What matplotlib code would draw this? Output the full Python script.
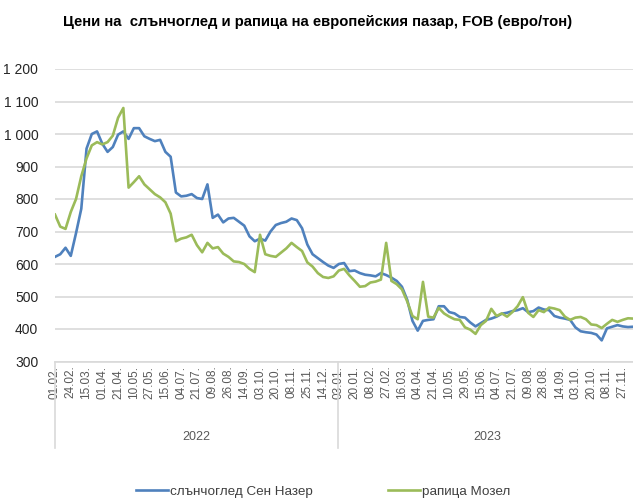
import matplotlib
matplotlib.use("Agg")
import matplotlib.pyplot as plt
import matplotlib.transforms as mtransforms
import numpy as np

plt.rcParams['font.family'] = ['Liberation Sans', 'DejaVu Sans']

title = "Цени на  слънчоглед и рапица на европейския пазар, FOB (евро/тон)"
series_names = ["слънчоглед Сен Назер", "рапица Мозел"]
tick_labels = ["01.02.", "24.02.", "15.03.", "01.04.", "21.04.", "10.05.", "27.05.", "15.06.",
               "04.07.", "21.07.", "09.08.", "26.08.", "14.09.", "03.10.", "20.10.", "08.11.",
               "25.11.", "14.12.", "03.01.", "20.01.", "08.02.", "27.02.", "16.03.", "04.04.",
               "21.04.", "10.05.", "29.05.", "15.06.", "04.07.", "21.07.", "09.08.", "28.08.",
               "14.09.", "03.10.", "20.10.", "08.11.", "27.11."]
years = ["2022", "2023"]
samples_per_tick = 3

sunflower = [622, 630, 650, 625, 695, 770, 955, 1000, 1008, 970,
             945, 960, 998, 1008, 985, 1018, 1018, 993, 985, 978,
             982, 945, 930, 820, 808, 810, 815, 803, 800, 845,
             742, 752, 728, 740, 742, 730, 718, 685, 670, 678,
             672, 700, 720, 726, 730, 740, 735, 710, 660, 630,
             618, 606, 595, 588, 600, 603, 578, 580, 572, 567,
             565, 562, 572, 566, 558, 548, 530, 490, 425, 395,
             425, 428, 430, 470, 470, 452, 448, 437, 435, 420,
             408, 418, 428, 432, 438, 447, 450, 455, 458, 464,
             452, 455, 466, 460, 458, 440, 435, 432, 428, 405,
             393, 390, 388, 383, 365, 402, 407, 412, 408, 406, 407]

rapeseed = [752, 715, 708, 760, 800, 870, 925, 965, 975, 968,
            975, 995, 1050, 1080, 835, 852, 870, 845, 830, 815,
            805, 790, 755, 670, 678, 682, 690, 658, 636, 665,
            648, 652, 632, 622, 608, 606, 600, 585, 575, 690,
            630, 625, 622, 635, 648, 665, 652, 640, 605, 592,
            572, 560, 557, 562, 580, 585, 565, 548, 530, 532,
            543, 546, 552, 665, 548, 538, 522, 485, 440, 430,
            545, 438, 435, 465, 448, 438, 430, 428, 405, 398,
            385, 412, 425, 462, 440, 448, 438, 452, 470, 498,
            450, 437, 458, 452, 466, 463, 458, 438, 428, 435,
            437, 430, 414, 412, 403, 416, 428, 422, 428, 433, 432]

W, H = 633, 501
fig = plt.figure(figsize=(W / 100, H / 100), dpi=100)
ax_left, ax_right = 55 / W, 1.0
ax_bottom, ax_top = (H - 361.5) / H, (H - 69) / H
ax = fig.add_axes([ax_left, ax_bottom, ax_right - ax_left, ax_top - ax_bottom])

blue = "#4F81BD"
green = "#9BBB59"
x = np.arange(len(sunflower)) / samples_per_tick
ax.plot(x, sunflower, color=blue, lw=1.9, label=series_names[0], solid_joinstyle='round', zorder=3)
ax.plot(x, rapeseed, color=green, lw=1.9, label=series_names[1], solid_joinstyle='round', zorder=3)

ax.set_ylim(300, 1200)
ax.set_xlim(0, (578 / 15.77))
ax.set_yticks(range(300, 1201, 100))
ax.set_yticklabels([f"{v:,}".replace(",", " ") for v in range(300, 1201, 100)],
                   fontsize=10, color="#262626")
ax.yaxis.grid(True, color="#d9d9d9", lw=1.2)
ax.set_axisbelow(True)
for s in ["top", "right", "left"]:
    ax.spines[s].set_visible(False)
ax.spines["bottom"].set_color("#d9d9d9")
ax.spines["bottom"].set_linewidth(1.2)
ax.tick_params(axis="y", length=0, pad=12)

ax.set_xticks(range(len(tick_labels)))
ax.set_xticklabels(tick_labels, rotation=90, fontsize=8.5, color="#595959", va="top", ha="center")
ax.tick_params(axis="x", length=0, pad=3)

trans = mtransforms.blended_transform_factory(ax.transData, ax.transAxes)
divider_pos = [0, 17.95]
for d in divider_pos:
    ax.plot([d, d], [0, -0.297], transform=trans, color="#d9d9d9", lw=1.2, clip_on=False)
year_pos = [8.97, 27.4]
for yp, yl in zip(year_pos, years):
    ax.text(yp, -0.258, yl, transform=trans, ha="center", va="center", fontsize=9, color="#595959")

fig.text(0.502, 0.956, title, ha="center", va="center", fontsize=10.7, fontweight="bold",
         color="#000000")

fig.legend(loc="center", bbox_to_anchor=(0.51, 0.018), ncol=2, frameon=False, fontsize=9.7,
           handlelength=2.4, handletextpad=0.1, columnspacing=5.6,
           labelcolor="#404040")

fig.savefig("out.png", dpi=100)
